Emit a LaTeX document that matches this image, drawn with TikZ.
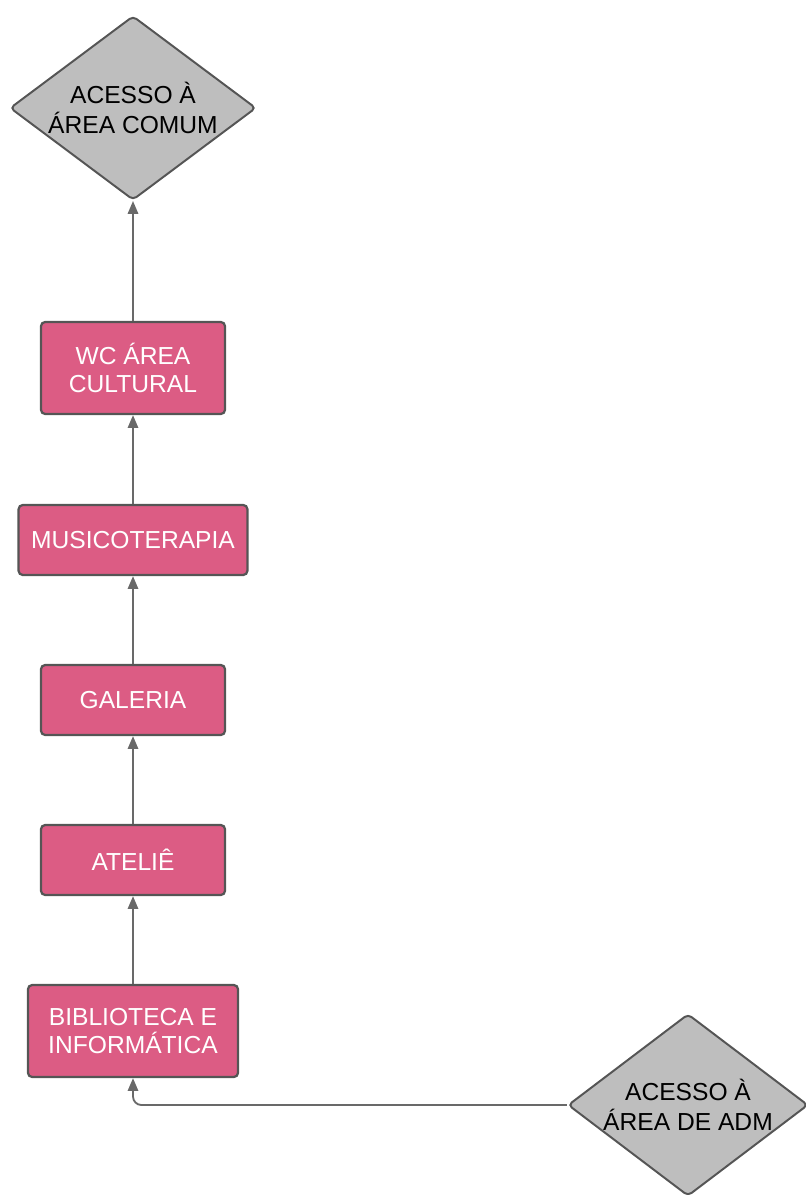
\documentclass[tikz,border=0pt]{standalone}
\usepackage{fontspec}
\setmainfont{Liberation Sans}
\usetikzlibrary{shapes.geometric,arrows.meta}

\definecolor{salaRosa}{RGB}{220,92,132}
\definecolor{acessoCinza}{RGB}{190,190,190}
\definecolor{bordaCinza}{RGB}{85,85,85}
\definecolor{setaCinza}{RGB}{105,105,105}

\tikzset{
  sala/.style={rectangle, rounded corners=3pt, draw=bordaCinza, line width=1.6pt,
    fill=salaRosa, text=white, align=center, inner sep=0pt,
    font=\fontsize{17.5}{20.5}\selectfont},
  acesso/.style={diamond, rounded corners=3pt, draw=bordaCinza, line width=1.4pt,
    fill=acessoCinza, text=black, align=center, inner sep=0pt, aspect=1.34,
    font=\fontsize{17.5}{21}\selectfont},
  fluxo/.style={draw=setaCinza, line width=1.3pt,
    -{Triangle[length=0.32cm,width=0.26cm]}}
}

\begin{document}
\begin{tikzpicture}[x=0.025cm, y=-0.025cm]
 	% Fixed frame of the page
 	\useasboundingbox (0,0) rectangle (805,1195);
 	
 	% Access points
 	\node[acesso, minimum width=6.15cm, minimum height=4.6cm] (comum) at (133,108) {ACESSO À\\ÁREA COMUM};
 	\node[acesso, minimum width=6.0cm, minimum height=4.55cm] (adm) at (688,1105) {ACESSO À\\ÁREA DE ADM};
 	
 	% Rooms of the cultural area
 	\node[sala, minimum width=4.6cm, minimum height=2.3cm] (wc) at (133,368) {WC ÁREA\\CULTURAL};
 	\node[sala, minimum width=5.72cm, minimum height=1.75cm] (musica) at (133,540) {MUSICOTERAPIA};
 	\node[sala, minimum width=4.6cm, minimum height=1.75cm] (galeria) at (133,700) {GALERIA};
 	\node[sala, minimum width=4.6cm, minimum height=1.75cm] (atelie) at (133,860) {ATELIÊ};
 	\node[sala, minimum width=5.25cm, minimum height=2.3cm] (biblio) at (133,1031) {BIBLIOTECA E\\INFORMÁTICA};
 	
 	% Route from the admin entrance up to the common area
 	\draw[fluxo, rounded corners=6pt] (adm.west) -| (biblio.south);
 	\draw[fluxo] (biblio) -- (atelie);
 	\draw[fluxo] (atelie) -- (galeria);
 	\draw[fluxo] (galeria) -- (musica);
 	\draw[fluxo] (musica) -- (wc);
 	\draw[fluxo] (wc) -- (comum);
 \end{tikzpicture}
\end{document}
